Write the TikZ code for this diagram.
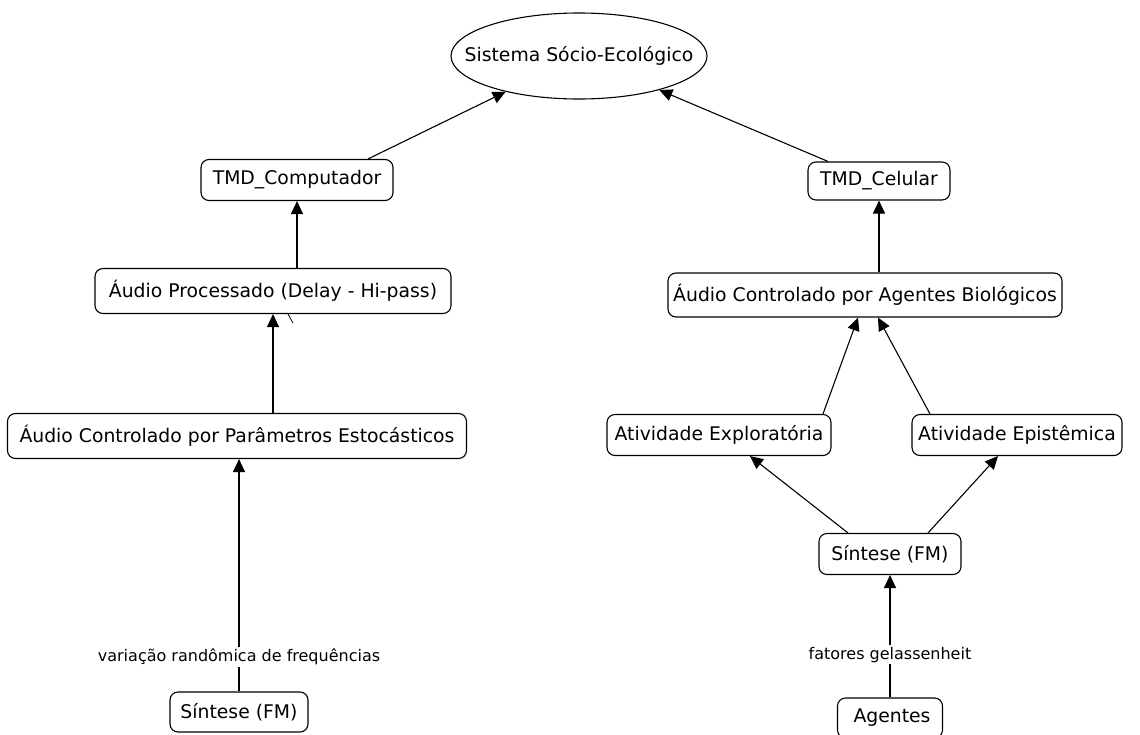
\documentclass[tikz,border=0pt]{standalone}
\usepackage{fontspec}
\setmainfont{DejaVu Sans}
\usetikzlibrary{shapes.geometric,arrows.meta}
\tikzset{
  box/.style={draw, rounded corners=8pt, line width=1.1pt, inner sep=0pt, font=\fontsize{18.8}{23}\selectfont, minimum height=41pt},
  oval/.style={draw, ellipse, line width=1.1pt, inner sep=0pt},
  arr/.style={line width=1.1pt, -{Triangle[length=13pt,width=12pt]}},
  lbl/.style={fill=white, inner sep=2pt, font=\fontsize{16}{19}\selectfont}
}
\begin{document}
\begin{tikzpicture}[x=1pt,y=-1pt]
\useasboundingbox[fill=white] (0,0) rectangle (1140,734);
\node[oval, minimum width=256pt, minimum height=86pt,
  label={[font=\fontsize{18.8}{23}\selectfont]center:Sistema Sócio-Ecológico}] (ell) at (579,56) {};
\node[box, minimum width=192pt] (tmdc) at (297,180) {TMD\_Computador};
\node[box, minimum width=356pt, minimum height=45pt] (aproc) at (273,291) {Áudio Processado (Delay - Hi-pass)};
\node[box, minimum width=459pt, minimum height=45pt] (est) at (237,436) {Áudio Controlado por Parâmetros Estocásticos};
\node[box, minimum width=138pt, minimum height=40pt] (sinl) at (239,712) {Síntese (FM)};
\node[box, minimum width=142pt, minimum height=38pt] (cel) at (879,181) {TMD\_Celular};
\node[box, minimum width=394pt, minimum height=44pt] (bio) at (865,295) {Áudio Controlado por Agentes Biológicos};
\node[box, minimum width=224pt] (expl) at (719,435) {Atividade Exploratória};
\node[box, minimum width=210pt] (epi) at (1017,435) {Atividade Epistêmica};
\node[box, minimum width=142pt] (sinr) at (890,554) {Síntese (FM)};
\node[box, minimum width=105pt, minimum height=40pt] (ag) at (890,718) {\hspace{4pt}Agentes};

\draw[arr] ([xshift=71pt]tmdc.north) -- (ell);
\draw[arr] ([xshift=-51pt]cel.north) -- (ell);
\draw[arr] (aproc.north -| tmdc) -- (tmdc.south);
\draw[arr] (est.north -| aproc) -- (aproc.south);
\draw[line width=0.8pt] ([xshift=15pt]aproc.south) -- ++(5,9);
\draw[arr] (sinl.north) -- (est.south -| sinl) node[lbl, pos=0.15] {variação randômica de frequências};
\draw[arr] (bio.north -| cel) -- (cel.south);
\draw[arr] ([xshift=104pt]expl.north) -- ([xshift=-7pt]bio.south);
\draw[arr] ([xshift=-87pt]epi.north) -- ([xshift=13pt]bio.south);
\draw[arr] ([xshift=-42pt]sinr.north) -- ([xshift=31pt]expl.south);
\draw[arr] ([xshift=38pt]sinr.north) -- ([xshift=-19pt]epi.south);
\draw[arr] (ag.north) -- (sinr.south) node[lbl, pos=0.35] {fatores gelassenheit};
\end{tikzpicture}
\end{document}
